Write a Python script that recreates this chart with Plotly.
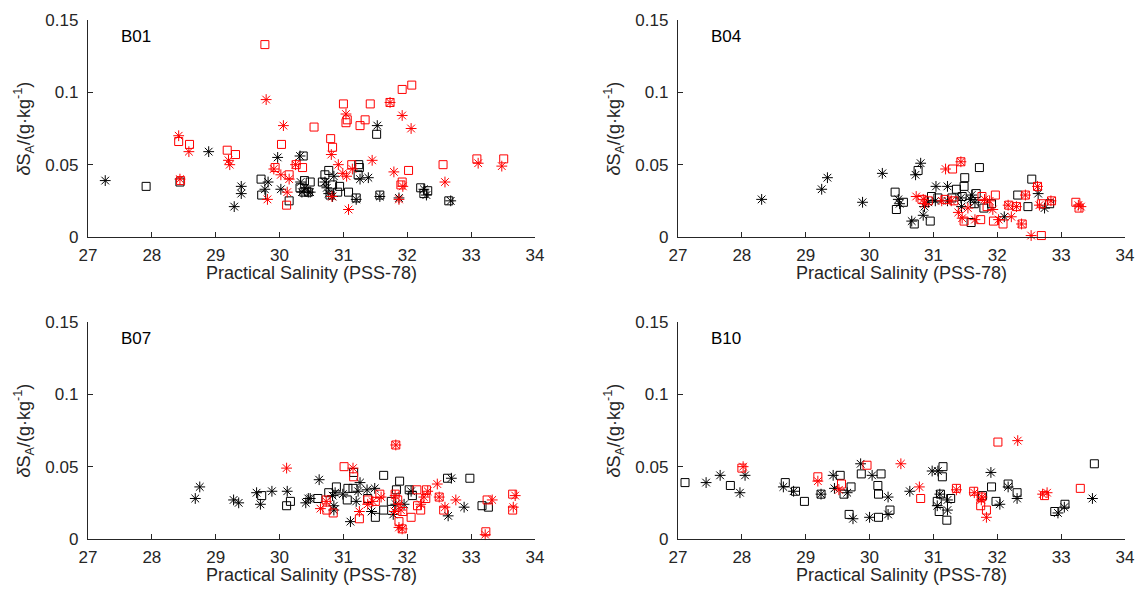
import plotly.graph_objects as go
from plotly.subplots import make_subplots

# ---------------- data ----------------
panel_names = ["B01", "B04", "B07", "B10"]
x_ticks = [27, 28, 29, 30, 31, 32, 33, 34]
y_ticks = [0, 0.05, 0.1, 0.15]

# B01
b01_bs_x = [27.27, 28.89, 29.29, 29.40, 29.40, 29.77, 29.82, 29.97, 30.02, 30.32, 30.33, 30.35, 30.40, 30.45, 30.71, 30.74, 30.77, 30.83, 30.85, 30.48, 31.26, 31.39, 31.20, 31.57, 31.53, 31.87, 32.26, 32.30, 32.68]
b01_bs_y = [0.039, 0.059, 0.021, 0.035, 0.030, 0.033, 0.038, 0.055, 0.033, 0.056, 0.038, 0.031, 0.034, 0.031, 0.038, 0.034, 0.030, 0.028, 0.042, 0.031, 0.040, 0.041, 0.026, 0.028, 0.077, 0.027, 0.033, 0.029, 0.025]
b01_bq_x = [27.91, 28.44, 29.71, 29.72, 30.15, 30.37, 30.39, 30.32, 30.38, 30.45, 30.48, 30.67, 30.71, 30.77, 30.83, 30.94, 30.91, 30.79, 31.08, 31.20, 31.24, 31.25, 31.23, 31.52, 31.57, 32.21, 32.32, 32.26, 32.65]
b01_bq_y = [0.035, 0.038, 0.040, 0.029, 0.025, 0.056, 0.039, 0.034, 0.031, 0.031, 0.038, 0.038, 0.043, 0.046, 0.036, 0.035, 0.031, 0.029, 0.031, 0.027, 0.050, 0.048, 0.043, 0.071, 0.029, 0.034, 0.032, 0.030, 0.025]
b01_rs_x = [28.42, 28.44, 28.58, 29.20, 29.22, 29.79, 29.81, 29.91, 30.02, 30.06, 30.12, 30.15, 30.25, 30.81, 30.92, 30.99, 31.05, 31.14, 31.45, 30.82, 31.08, 31.04, 31.73, 31.92, 32.06, 31.79, 31.93, 31.87, 32.59, 33.11, 33.48]
b01_rs_y = [0.070, 0.040, 0.059, 0.053, 0.050, 0.095, 0.026, 0.047, 0.043, 0.077, 0.031, 0.040, 0.050, 0.057, 0.050, 0.044, 0.042, 0.047, 0.053, 0.028, 0.019, 0.085, 0.093, 0.084, 0.075, 0.045, 0.035, 0.026, 0.038, 0.051, 0.049]
b01_rq_x = [28.42, 28.59, 28.45, 29.18, 29.31, 29.77, 29.93, 30.03, 30.15, 30.11, 30.26, 30.36, 30.54, 30.80, 30.83, 31.00, 31.06, 31.04, 31.26, 31.34, 31.42, 31.73, 31.92, 32.07, 31.13, 32.02, 31.92, 31.90, 32.56, 33.09, 33.51]
b01_rq_y = [0.066, 0.064, 0.039, 0.060, 0.057, 0.133, 0.048, 0.064, 0.043, 0.022, 0.050, 0.048, 0.076, 0.068, 0.062, 0.092, 0.081, 0.079, 0.077, 0.081, 0.092, 0.093, 0.102, 0.105, 0.050, 0.046, 0.038, 0.036, 0.050, 0.054, 0.054]

# B04
b04_bs_x = [28.31, 29.25, 29.34, 29.89, 30.20, 30.80, 30.72, 30.45, 30.47, 30.66, 30.84, 30.86, 31.04, 31.22, 31.03, 30.92, 31.22, 31.43, 31.44, 31.60, 31.58, 31.65, 32.11, 32.64, 32.74]
b04_bs_y = [0.026, 0.033, 0.041, 0.024, 0.044, 0.051, 0.043, 0.026, 0.023, 0.011, 0.015, 0.021, 0.035, 0.035, 0.025, 0.024, 0.025, 0.027, 0.021, 0.029, 0.026, 0.024, 0.014, 0.030, 0.020]
b04_bq_x = [30.76, 30.40, 30.53, 30.42, 30.70, 30.95, 31.72, 31.49, 31.48, 31.36, 30.97, 31.07, 31.29, 31.45, 31.67, 31.64, 31.59, 31.79, 32.32, 32.54, 32.48, 32.82, 31.91]
b04_bq_y = [0.046, 0.031, 0.024, 0.019, 0.009, 0.011, 0.048, 0.041, 0.035, 0.033, 0.028, 0.027, 0.027, 0.028, 0.030, 0.023, 0.010, 0.020, 0.029, 0.040, 0.021, 0.023, 0.023]
b04_rs_x = [31.19, 31.43, 30.73, 30.84, 30.86, 31.13, 31.28, 31.39, 31.45, 31.54, 31.65, 31.80, 31.93, 31.88, 32.02, 32.17, 32.22, 32.30, 32.38, 32.44, 32.63, 32.53, 32.66, 32.84, 33.27, 33.31]
b04_rs_y = [0.047, 0.052, 0.028, 0.026, 0.023, 0.025, 0.025, 0.017, 0.013, 0.020, 0.012, 0.026, 0.019, 0.025, 0.012, 0.022, 0.014, 0.021, 0.009, 0.029, 0.035, 0.001, 0.022, 0.025, 0.022, 0.021]
b04_rq_x = [31.30, 31.43, 30.82, 30.92, 31.18, 31.32, 31.48, 31.74, 31.76, 31.97, 31.84, 31.94, 32.09, 32.18, 32.30, 32.39, 32.44, 32.63, 32.69, 32.69, 32.85, 33.23, 33.28]
b04_rq_y = [0.047, 0.052, 0.026, 0.025, 0.026, 0.025, 0.011, 0.012, 0.028, 0.029, 0.021, 0.011, 0.009, 0.022, 0.021, 0.009, 0.029, 0.035, 0.001, 0.023, 0.025, 0.024, 0.020]

# B07
b07_bs_x = [28.68, 28.75, 29.28, 29.36, 29.64, 29.70, 29.88, 30.12, 30.41, 30.45, 30.62, 30.48, 30.83, 30.87, 30.85, 30.85, 30.99, 31.11, 31.20, 31.23, 31.26, 31.37, 31.49, 31.44, 31.78, 31.82, 31.95, 32.06, 32.69, 32.64, 32.89]
b07_bs_y = [0.028, 0.036, 0.027, 0.025, 0.032, 0.024, 0.033, 0.033, 0.025, 0.028, 0.041, 0.028, 0.030, 0.032, 0.023, 0.020, 0.031, 0.012, 0.026, 0.033, 0.039, 0.034, 0.035, 0.019, 0.017, 0.024, 0.024, 0.033, 0.042, 0.016, 0.022]
b07_bq_x = [29.72, 30.11, 30.17, 30.60, 30.89, 30.77, 31.07, 31.15, 31.06, 31.16, 31.63, 31.88, 31.38, 31.63, 31.50, 31.75, 31.83, 32.03, 32.08, 32.63, 32.98, 33.17, 33.27]
b07_bq_y = [0.030, 0.023, 0.026, 0.028, 0.036, 0.032, 0.035, 0.035, 0.027, 0.046, 0.044, 0.040, 0.028, 0.020, 0.015, 0.026, 0.034, 0.034, 0.030, 0.042, 0.042, 0.023, 0.022]
b07_rs_x = [30.11, 30.64, 31.15, 30.73, 31.25, 31.38, 31.46, 31.59, 31.82, 31.81, 31.87, 31.90, 31.80, 31.92, 31.87, 32.21, 32.26, 32.32, 32.47, 32.50, 32.59, 32.76, 33.22, 33.33, 33.69, 33.66]
b07_rs_y = [0.049, 0.021, 0.049, 0.026, 0.019, 0.024, 0.026, 0.029, 0.065, 0.030, 0.024, 0.020, 0.019, 0.007, 0.008, 0.024, 0.029, 0.033, 0.038, 0.029, 0.022, 0.027, 0.003, 0.027, 0.030, 0.022]
b07_rq_x = [31.01, 31.16, 30.73, 30.74, 30.84, 31.25, 31.38, 31.50, 31.57, 31.82, 31.81, 31.85, 31.93, 31.87, 31.92, 32.06, 32.15, 32.16, 32.21, 32.30, 32.29, 32.50, 32.57, 33.23, 33.25, 33.65, 33.65]
b07_rq_y = [0.050, 0.043, 0.027, 0.020, 0.018, 0.014, 0.027, 0.026, 0.031, 0.065, 0.031, 0.027, 0.019, 0.012, 0.007, 0.015, 0.034, 0.023, 0.020, 0.034, 0.028, 0.029, 0.020, 0.005, 0.027, 0.031, 0.020]

# B10
b10_bs_x = [27.44, 27.66, 27.97, 28.05, 28.65, 28.81, 29.24, 29.43, 29.45, 29.65, 29.74, 29.86, 30.00, 30.04, 30.29, 30.29, 30.63, 30.98, 31.07, 31.10, 31.06, 31.22, 31.22, 31.90, 32.04, 32.17, 32.31, 32.95, 33.05, 33.49]
b10_bs_y = [0.039, 0.044, 0.032, 0.044, 0.036, 0.033, 0.031, 0.044, 0.035, 0.032, 0.014, 0.052, 0.015, 0.044, 0.029, 0.017, 0.033, 0.047, 0.047, 0.031, 0.023, 0.027, 0.020, 0.046, 0.024, 0.036, 0.028, 0.018, 0.022, 0.028]
b10_bq_x = [27.11, 27.82, 28.68, 28.84, 28.98, 29.24, 29.54, 29.60, 29.71, 29.68, 29.87, 30.13, 30.14, 30.14, 30.18, 30.32, 31.15, 31.14, 31.11, 31.06, 31.09, 31.21, 31.27, 31.77, 31.91, 31.98, 32.17, 32.31, 32.90, 33.06, 33.52]
b10_bq_y = [0.039, 0.037, 0.039, 0.033, 0.026, 0.031, 0.044, 0.031, 0.036, 0.017, 0.045, 0.037, 0.031, 0.015, 0.045, 0.020, 0.050, 0.043, 0.031, 0.026, 0.019, 0.013, 0.028, 0.030, 0.036, 0.026, 0.038, 0.032, 0.019, 0.024, 0.052]
b10_rs_x = [28.02, 29.19, 29.52, 30.49, 30.78, 31.36, 31.64, 31.76, 31.75, 31.83, 32.32, 32.71, 32.78]
b10_rs_y = [0.050, 0.040, 0.034, 0.052, 0.036, 0.034, 0.032, 0.029, 0.027, 0.015, 0.068, 0.031, 0.032]
b10_rq_x = [28.00, 29.19, 29.56, 29.96, 32.01, 30.80, 31.36, 31.63, 31.75, 31.74, 31.83, 32.74, 33.30]
b10_rq_y = [0.049, 0.043, 0.038, 0.051, 0.067, 0.028, 0.035, 0.033, 0.029, 0.023, 0.020, 0.030, 0.035]

panels = [
    (b01_bq_x, b01_bq_y, b01_bs_x, b01_bs_y, b01_rq_x, b01_rq_y, b01_rs_x, b01_rs_y),
    (b04_bq_x, b04_bq_y, b04_bs_x, b04_bs_y, b04_rq_x, b04_rq_y, b04_rs_x, b04_rs_y),
    (b07_bq_x, b07_bq_y, b07_bs_x, b07_bs_y, b07_rq_x, b07_rq_y, b07_rs_x, b07_rs_y),
    (b10_bq_x, b10_bq_y, b10_bs_x, b10_bs_y, b10_rq_x, b10_rq_y, b10_rs_x, b10_rs_y),
]

# ---------------- figure ----------------
W, H = 1139, 593
FONT = "Liberation Sans"
AX = "#262626"

fig = make_subplots(rows=2, cols=2)

pos = [(1, 1), (1, 2), (2, 1), (2, 2)]
for (r, c), d in zip(pos, panels):
    bqx, bqy, bsx, bsy, rqx, rqy, rsx, rsy = d
    fig.add_trace(go.Scatter(x=bqx, y=bqy, mode="markers", cliponaxis=False,
                             marker=dict(symbol="square-open", size=8, color="black", line=dict(width=1))), row=r, col=c)
    fig.add_trace(go.Scatter(x=bsx, y=bsy, mode="markers", cliponaxis=False,
                             marker=dict(symbol="asterisk-open", size=9, color="black", line=dict(width=1, color="black"))), row=r, col=c)
    fig.add_trace(go.Scatter(x=rqx, y=rqy, mode="markers", cliponaxis=False,
                             marker=dict(symbol="square-open", size=8, color="red", line=dict(width=1))), row=r, col=c)
    fig.add_trace(go.Scatter(x=rsx, y=rsy, mode="markers", cliponaxis=False,
                             marker=dict(symbol="asterisk-open", size=9, color="red", line=dict(width=1, color="red"))), row=r, col=c)

# domains in pixels
left_px = [(88, 535), (678, 1125)]
top_px = [(20, 237), (322, 539)]

def xdom(a, b):
    return [a / W, b / W]

def ydom(t, b):
    return [(H - b) / H, (H - t) / H]

xcommon = dict(range=[27, 34], tickvals=x_ticks, showline=True, linecolor=AX, linewidth=1.3,
               ticks="inside", ticklen=5, tickwidth=1, tickcolor=AX, showgrid=False, zeroline=False,
               automargin=False, tickfont=dict(family=FONT, size=17, color=AX), ticklabelstandoff=2)
ycommon = dict(range=[0, 0.15], tickvals=y_ticks, showline=True, linecolor=AX,
               linewidth=1.3, ticks="inside", ticklen=5, tickwidth=1, tickcolor=AX, showgrid=False,
               zeroline=False, automargin=False, tickfont=dict(family=FONT, size=17, color=AX),
               ticklabelstandoff=5)

annotations = []
for i, (r, c) in enumerate(pos):
    xa, xb = left_px[c - 1]
    yt, yb = top_px[r - 1]
    sfx = "" if i == 0 else str(i + 1)
    fig.layout["xaxis" + sfx].update(domain=xdom(xa, xb), **xcommon)
    fig.layout["yaxis" + sfx].update(domain=ydom(yt, yb), **ycommon)
    # panel label
    annotations.append(dict(text=panel_names[i], xref="paper", yref="paper",
                            x=(xa + 48) / W, y=(H - (yt + 16)) / H, xanchor="center", yanchor="middle",
                            showarrow=False, font=dict(family=FONT, size=17, color="black")))
    # x title
    annotations.append(dict(text="Practical Salinity (PSS-78)", xref="paper", yref="paper",
                            x=((xa + xb) / 2) / W, y=(H - (yb + 36)) / H, xanchor="center", yanchor="middle",
                            showarrow=False, font=dict(family=FONT, size=18, color=AX)))
    # y title
    annotations.append(dict(text="<i>δ</i>S<sub>A</sub>/(g·kg<sup>-1</sup>)", xref="paper", yref="paper",
                            x=(xa - 64) / W, y=(H - (yt + yb) / 2) / H, xanchor="center", yanchor="middle",
                            textangle=-90, showarrow=False, font=dict(family=FONT, size=18, color=AX)))

fig.update_layout(template="none", width=W, height=H, margin=dict(l=0, r=0, t=0, b=0, autoexpand=False),
                  showlegend=False, plot_bgcolor="white", paper_bgcolor="white", annotations=annotations)

fig.write_html("out.html", config={"displayModeBar": False},
               post_script="document.body.style.margin='0';document.body.style.padding='0';"
                           "document.documentElement.style.overflow='hidden';")
